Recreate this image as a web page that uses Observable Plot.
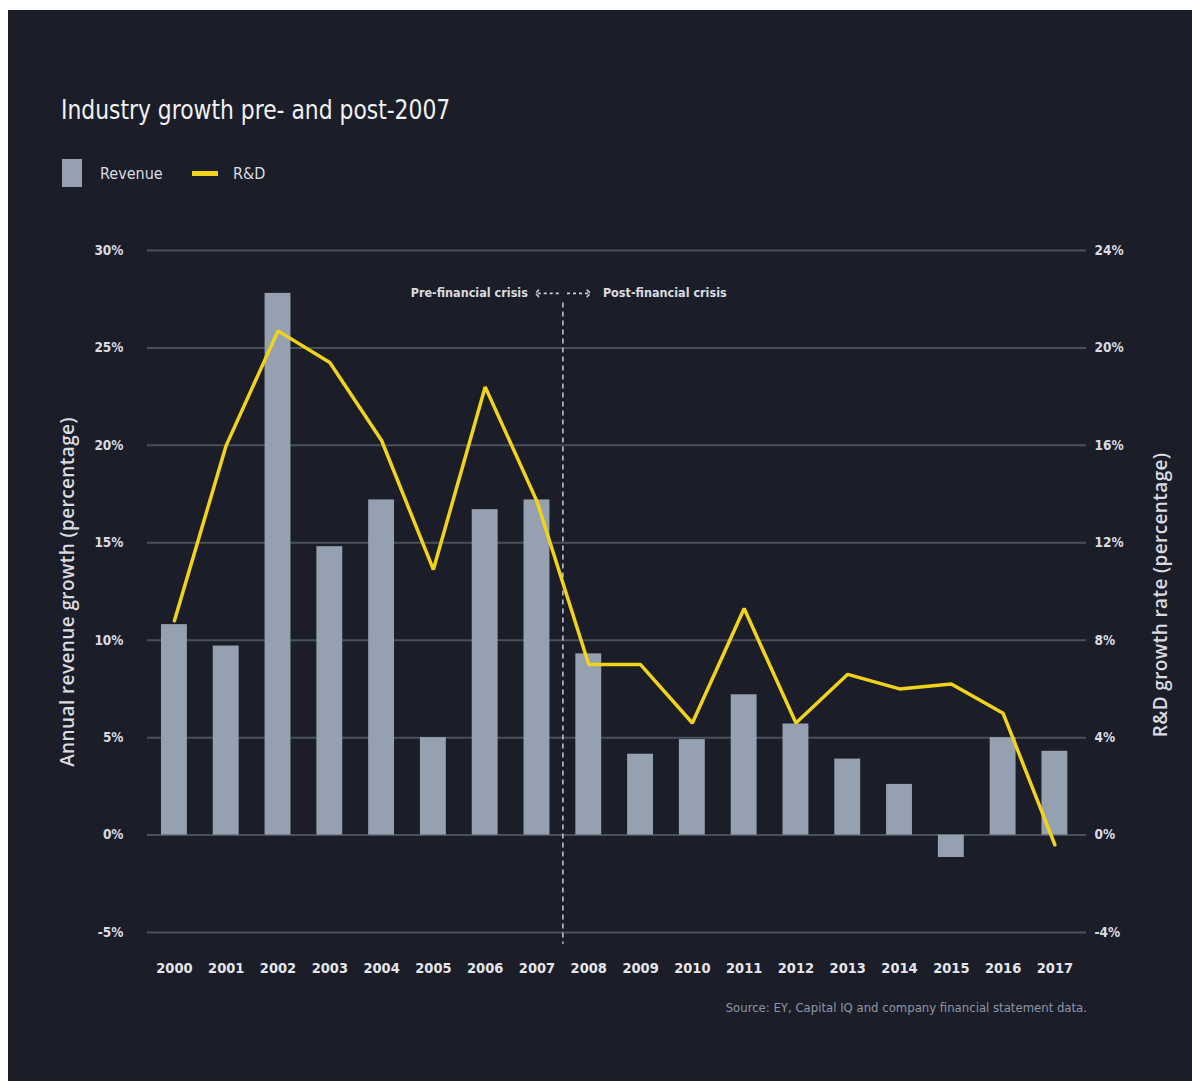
<!DOCTYPE html>
<html>
<head>
<meta charset="utf-8">
<script src="https://cdn.jsdelivr.net/npm/d3@7"></script>
<script src="https://cdn.jsdelivr.net/npm/@observablehq/plot@0.6"></script>
<style>
  html, body { margin: 0; padding: 0; background: #ffffff; width: 1192px; height: 1081px; overflow: hidden; }
  #bg { position: absolute; left: 8px; top: 10px; width: 1184px; height: 1071px; background: #1b1e29; }
  .narrow { font-family: "Liberation Sans Narrow", "DejaVu Sans Condensed", "Roboto Condensed", sans-serif; }
  #title { position: absolute; left: 61px; top: 96px; font-size: 27px; line-height: 27px; color: #f1f1f3; white-space: nowrap; transform: scale(0.9, 1); transform-origin: left center; }
  .legsw { position: absolute; }
  .legtx { position: absolute; font-size: 16px; line-height: 16px; color: #d9dbe0; white-space: nowrap; }
  .ytitle { position: absolute; font-family: "Open Sans", sans-serif; font-weight: 600; font-size: 19px; letter-spacing: 0.4px; color: #d9dbe0; white-space: nowrap; transform: translate(-50%, -50%) rotate(-90deg); }
  #chart { position: absolute; left: 0; top: 230px; }
  #source { position: absolute; right: 105px; top: 1001px; font-size: 13px; line-height: 14px; color: #8f96a3; white-space: nowrap; }
</style>
</head>
<body>
<div id="bg"></div>
<div id="title" class="narrow">Industry growth pre- and post-2007</div>
<div class="legsw" style="left:62px;top:159px;width:20px;height:28px;background:#95a0b0;"></div>
<div class="legtx narrow" style="left:100px;top:166px;">Revenue</div>
<div class="legsw" style="left:192px;top:171px;width:26px;height:5px;background:#f2d31b;"></div>
<div class="legtx narrow" style="left:233px;top:166px;">R&amp;D</div>
<div class="ytitle" style="left:67px;top:592px;">Annual revenue growth (percentage)</div>
<div class="ytitle" style="left:1160px;top:595px;">R&amp;D growth rate (percentage)</div>
<div id="chart"></div>
<div id="source" class="narrow">Source: EY, Capital IQ and company financial statement data.</div>
<script>
const years = [2000, 2001, 2002, 2003, 2004, 2005, 2006, 2007, 2008, 2009, 2010, 2011, 2012, 2013, 2014, 2015, 2016, 2017];
const revenue = [10.8, 9.7, 27.8, 14.8, 17.2, 5.0, 16.7, 17.2, 9.3, 4.15, 4.9, 7.2, 5.7, 3.9, 2.6, -1.15, 5.0, 4.3];
const rd = [8.8, 16.0, 20.7, 19.4, 16.2, 10.9, 18.4, 13.7, 7.0, 7.0, 4.6, 9.3, 4.6, 6.6, 6.0, 6.2, 5.0, -0.4];
const leftTicks = [-5, 0, 5, 10, 15, 20, 25, 30];
const leftTickLabels = ["-5%", "0%", "5%", "10%", "15%", "20%", "25%", "30%"];
const rightTickLabels = ["-4%", "0%", "4%", "8%", "12%", "16%", "20%", "24%"];
const crisisLabels = ["Pre-financial crisis", "Post-financial crisis"];

const rdToLeft = 30 / 24; // right axis 24% aligns with left axis 30%
const crisisX = 2007.5;
const crisisY = 27.8;

const data = years.map((year, i) => ({ year, revenue: revenue[i], rd: rd[i] }));
const FONT = '"Liberation Sans Narrow", "DejaVu Sans Condensed", sans-serif';
const TXT = "#d9dbe0";

const chart = Plot.plot({
  width: 1192,
  height: 800,
  marginLeft: 147,
  marginRight: 106,
  marginTop: 20,
  marginBottom: 98,
  style: { background: "transparent", color: TXT, fontFamily: FONT },
  x: { domain: [1999.48, 2017.61], axis: null },
  y: { domain: [-5, 30], axis: null },
  marks: [
    Plot.ruleY(leftTicks, { stroke: "#4a4f5c", strokeWidth: 2 }),
    Plot.rectY(data, { x1: d => d.year - 0.25, x2: d => d.year + 0.25, y: "revenue", fill: "#95a0b0" }),
    Plot.ruleX([crisisX], { y1: crisisY - 0.5, y2: -5.6, stroke: "#c9ccd3", strokeWidth: 1.5, strokeDasharray: "5,4" }),
    Plot.link([crisisX], { x1: d => d - 0.08, x2: d => d - 0.5, y1: () => crisisY, y2: () => crisisY, stroke: "#c9ccd3", strokeWidth: 1.6, strokeDasharray: "3,3", markerEnd: "arrow" }),
    Plot.link([crisisX], { x1: d => d + 0.08, x2: d => d + 0.5, y1: () => crisisY, y2: () => crisisY, stroke: "#c9ccd3", strokeWidth: 1.6, strokeDasharray: "3,3", markerEnd: "arrow" }),
    Plot.text([crisisLabels[0]], { x: () => crisisX, y: () => crisisY, dx: -35, textAnchor: "end", fill: TXT, fontSize: 12.5, fontWeight: "bold", fontFamily: FONT }),
    Plot.text([crisisLabels[1]], { x: () => crisisX, y: () => crisisY, dx: 40, textAnchor: "start", fill: TXT, fontSize: 12.5, fontWeight: "bold", fontFamily: FONT }),
    Plot.line(data, { x: "year", y: d => d.rd * rdToLeft, stroke: "#f2d31b", strokeWidth: 3.5, strokeLinejoin: "miter" }),
    Plot.axisY(leftTicks, { anchor: "left", tickSize: 0, tickPadding: 24, tickFormat: d => leftTickLabels[leftTicks.indexOf(d)], fill: TXT, fontSize: 13.5, fontWeight: "bold", fontFamily: FONT, label: null }),
    Plot.axisY(leftTicks, { anchor: "right", tickSize: 0, tickPadding: 8, tickFormat: d => rightTickLabels[leftTicks.indexOf(d)], fill: TXT, fontSize: 13.5, fontWeight: "bold", fontFamily: FONT, label: null }),
    Plot.axisX(years, { anchor: "bottom", tickSize: 0, tickPadding: 30, tickFormat: d => String(d), fill: "#e4e6ea", fontSize: 14.5, fontWeight: "bold", fontFamily: FONT, label: null })
  ]
});
document.getElementById("chart").appendChild(chart);
</script>
</body>
</html>
